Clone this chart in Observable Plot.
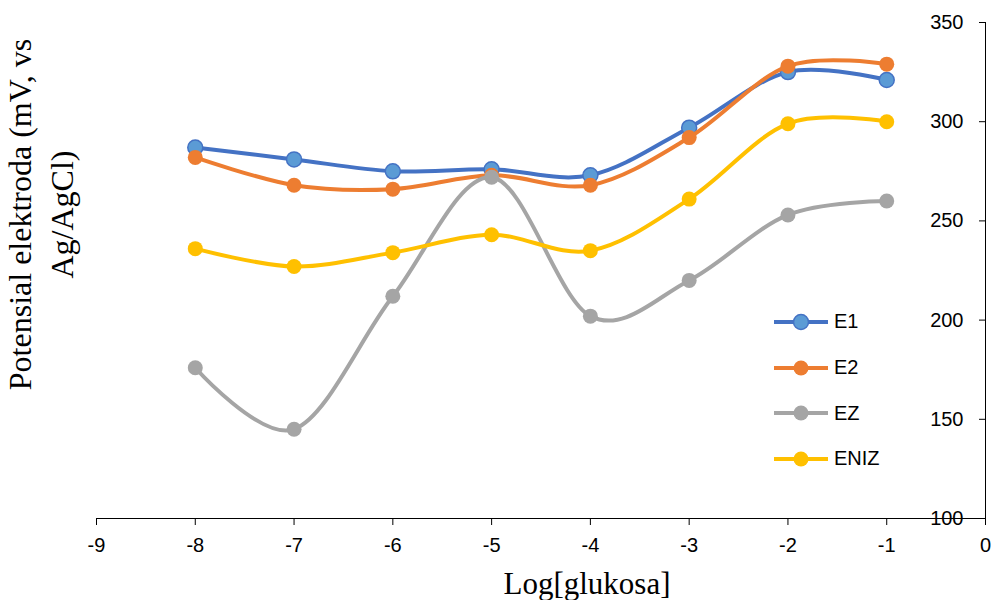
<!DOCTYPE html>
<html>
<head>
<meta charset="utf-8">
<script src="https://cdn.jsdelivr.net/npm/d3@7"></script>
<script src="https://cdn.jsdelivr.net/npm/@observablehq/plot@0.6"></script>
<style>
  html, body { margin: 0; padding: 0; background: #fff; }
  #wrap { position: relative; width: 991px; height: 600px; overflow: hidden; }
  #legend { position: absolute; left: 774px; top: 299px; font-family: "Liberation Sans", Arial, sans-serif; font-size: 20px; color: #000; }
  .item { display: flex; align-items: center; height: 45.7px; }
  .item span { margin-left: 6px; }
</style>
</head>
<body>
<div id="wrap"></div>
<script>
const xValues = [-8, -7, -6, -5, -4, -3, -2, -1];
const seriesNames = ["E1", "E2", "EZ", "ENIZ"];
const e1 = [287, 281, 275, 276, 273, 297, 325, 321];
const e2 = [282, 268, 266, 273, 268, 292, 328, 329];
const ez = [176, 145, 212, 272, 202, 220, 253, 260];
const eniz = [236, 227, 234, 243, 235, 261, 299, 300];
const xTicks = [-9, -8, -7, -6, -5, -4, -3, -2, -1, 0];
const yTicks = [100, 150, 200, 250, 300, 350];
const lineColors = ["#4472C4", "#ED7D31", "#A5A5A5", "#FFC000"];
const dotFills = ["#5B9BD5", "#ED7D31", "#A5A5A5", "#FFC000"];
const yTitle = "Potensial elektroda (mV, vs\nAg/AgCl)";
const xTitle = "Log[glukosa]";

const allValues = [e1, e2, ez, eniz];
const seriesMarks = [];
seriesNames.forEach((name, i) => {
  const rows = xValues.map((x, j) => ({x, y: allValues[i][j], series: name}));
  seriesMarks.push(Plot.line(rows, {x: "x", y: "y", stroke: lineColors[i], strokeWidth: 4, curve: "cardinal"}));
  seriesMarks.push(Plot.dot(rows, {x: "x", y: "y", r: 7.5, fill: dotFills[i], stroke: i === 0 ? lineColors[0] : "none", strokeWidth: 1.5}));
});

const chart = Plot.plot({
  width: 991,
  height: 600,
  marginLeft: 96,
  marginRight: 6,
  marginTop: 22,
  marginBottom: 82,
  x: {domain: [-9, 0]},
  y: {domain: [100, 350]},
  style: {fontFamily: "Liberation Sans, Arial, sans-serif", fontSize: "20px", color: "#000", background: "#fff"},
  marks: [
    Plot.ruleY([100], {stroke: "#000", strokeWidth: 1}),
    Plot.ruleX([0], {stroke: "#000", strokeWidth: 1}),
    Plot.axisX({ticks: xTicks, tickSize: 7, tickPadding: 12, tickFormat: d => String(d), label: null, stroke: "#000", fontSize: 20}),
    Plot.axisY({ticks: yTicks, anchor: "right", tickSize: 7, dx: -7, tickFormat: () => "", label: null, stroke: "#000"}),
    Plot.text(yTicks, {x: 0, y: d => d, text: d => String(d), textAnchor: "end", dx: -22, fontSize: 20}),
    ...seriesMarks,
    Plot.text([yTitle], {frameAnchor: "left", rotate: -90, dx: -58, dy: -56, lineHeight: 1.3, fontSize: 32, fontFamily: "Liberation Serif, Times New Roman, serif", textAnchor: "middle"}),
    Plot.text([xTitle], {frameAnchor: "bottom", dy: 75, dx: 46, fontSize: 31, fontFamily: "Liberation Serif, Times New Roman, serif"})
  ]
});
document.getElementById("wrap").appendChild(chart);

// legend
const legend = document.createElement("div");
legend.id = "legend";
seriesNames.forEach((name, i) => {
  const item = document.createElement("div");
  item.className = "item";
  item.innerHTML = `<svg width="54" height="20"><line x1="0" y1="10" x2="54" y2="10" stroke="${lineColors[i]}" stroke-width="4"/><circle cx="27" cy="10" r="7.5" fill="${dotFills[i]}" stroke="${i === 0 ? lineColors[0] : "none"}" stroke-width="1.5"/></svg><span>${name}</span>`;
  legend.appendChild(item);
});
document.getElementById("wrap").appendChild(legend);
</script>
</body>
</html>
